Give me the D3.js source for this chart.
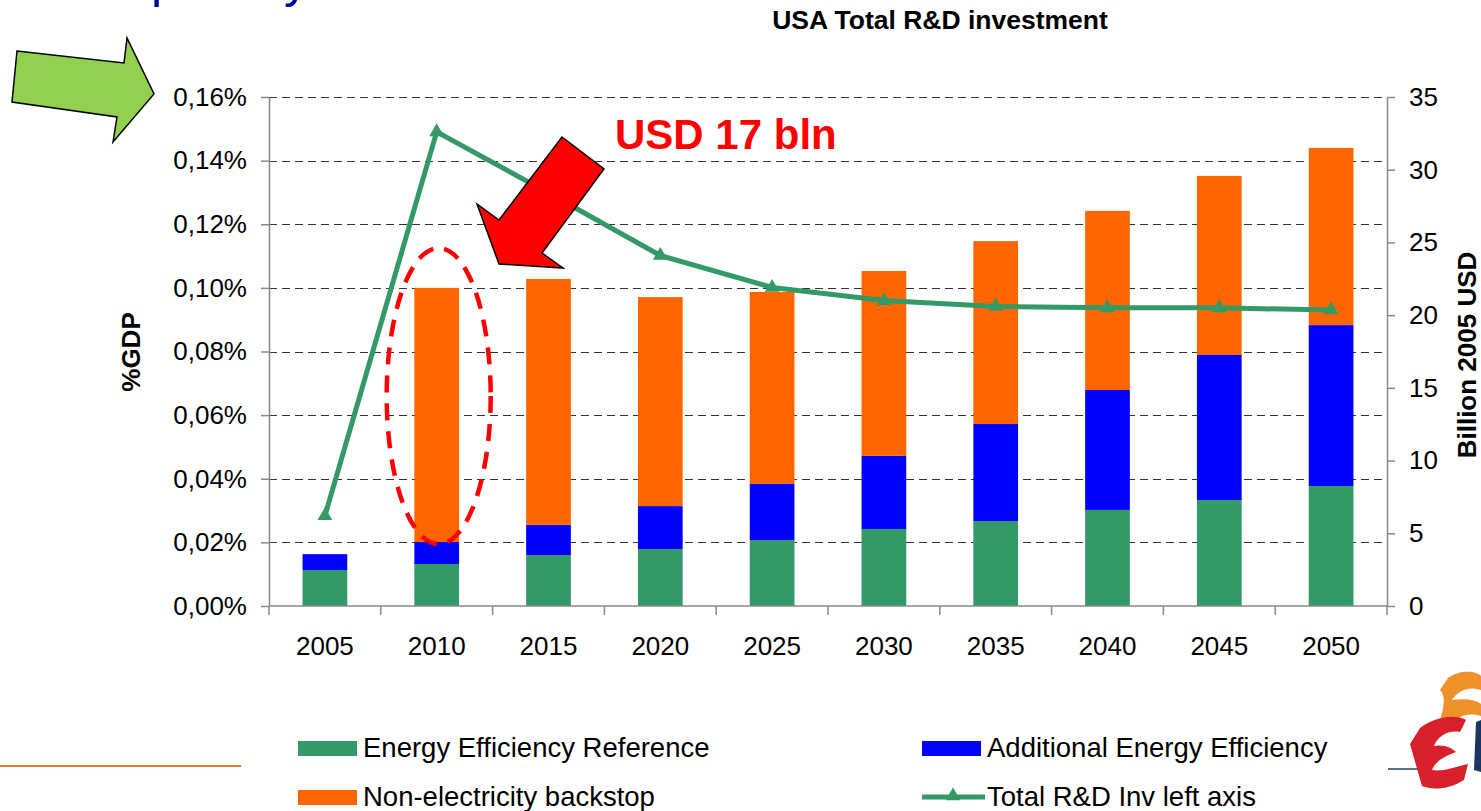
<!DOCTYPE html>
<html>
<head>
<meta charset="utf-8">
<script src="https://cdn.jsdelivr.net/npm/d3@7"></script>
<style>
  body { margin: 0; background: #fff; }
  svg { display: block; font-family: "Liberation Sans", Arial, sans-serif; }
</style>
</head>
<body>
<svg id="main_svg" width="1481" height="811"></svg>
<script>
// data
const years = ['2005', '2010', '2015', '2020', '2025', '2030', '2035', '2040', '2045', '2050'];
// %GDP, stacked segments
const eff_ref = [0.0113, 0.0132, 0.0160, 0.0179, 0.0207, 0.0242, 0.0267, 0.0302, 0.0333, 0.0377];
const eff_add = [0.0050, 0.0069, 0.0095, 0.0135, 0.0177, 0.0230, 0.0305, 0.0377, 0.0456, 0.0506];
const backstop = [0.0000, 0.0799, 0.0773, 0.0657, 0.0603, 0.0581, 0.0575, 0.0563, 0.0563, 0.0557];
// billion 2005 USD
const total_inv = [6.2, 32.6, 28.4, 24.1, 21.9, 21.0, 20.6, 20.5, 20.5, 20.35];
const left_ticks = [0, 0.02, 0.04, 0.06, 0.08, 0.10, 0.12, 0.14, 0.16];
const right_ticks = [0, 5, 10, 15, 20, 25, 30, 35];

const series_names = ['Energy Efficiency Reference', 'Additional Energy Efficiency', 'Non-electricity backstop'];
const series_colors = ['#339966', '#0000ff', '#ff6600'];
const line_color = '#339966';

const svg = d3.select('#main_svg');
const plot = { left: 269, right: 1387, top: 97, bottom: 606 };

const x = d3.scaleBand()
  .domain(years)
  .range([plot.left, plot.right])
  .paddingInner(0.6)
  .paddingOuter(0.3);

const y_left = d3.scaleLinear().domain([0, 0.16]).range([plot.bottom, plot.top]);
const y_right = d3.scaleLinear().domain([0, 35]).range([plot.bottom, plot.top]);

// slide title, cut off by the top edge (only descenders show)
svg.append('text').attr('x', 151).attr('y', -3)
  .style('font-size', '50px').style('fill', '#000099').text('p');
svg.append('text').attr('x', 284).attr('y', -3)
  .style('font-size', '50px').style('fill', '#000099').text('y');

// chart title
svg.append('text')
  .attr('x', 940).attr('y', 29)
  .attr('text-anchor', 'middle')
  .style('font-size', '26.5px').style('font-weight', 'bold')
  .text('USA Total R&D investment');

// dashed gridlines
svg.append('g').selectAll('line')
  .data(left_ticks.filter(d => d > 0))
  .enter().append('line')
  .attr('x1', plot.left).attr('x2', plot.right)
  .attr('y1', d => Math.round(y_left(d)) + 0.5)
  .attr('y2', d => Math.round(y_left(d)) + 0.5)
  .style('stroke', '#333')
  .style('stroke-width', 1.2)
  .style('stroke-dasharray', '8,5');

// stacked bars
const table = years.map((yr, i) => ({ year: yr, a: eff_ref[i], b: eff_add[i], c: backstop[i] }));
const stacked = d3.stack().keys(['a', 'b', 'c'])(table);

svg.append('g').selectAll('g')
  .data(stacked)
  .enter().append('g')
  .style('fill', (d, i) => series_colors[i])
  .selectAll('rect')
  .data(d => d)
  .enter().append('rect')
  .attr('x', d => x(d.data.year))
  .attr('width', x.bandwidth())
  .attr('y', d => y_left(d[1]))
  .attr('height', d => y_left(d[0]) - y_left(d[1]));

// axes
function style_axis(g) {
  g.selectAll('.domain').style('stroke', '#888').style('stroke-width', 1.5);
  g.selectAll('.tick line').style('stroke', '#888').style('stroke-width', 1.5);
  g.selectAll('text').style('font-size', '26px').style('fill', '#000')
    .style('font-family', '"Liberation Sans", Arial, sans-serif');
}

svg.append('g')
  .attr('transform', 'translate(' + plot.left + ',0)')
  .call(d3.axisLeft(y_left)
    .tickValues(left_ticks)
    .tickSize(8)
    .tickSizeOuter(0)
    .tickPadding(14)
    .tickFormat(d => d.toFixed(2).replace('.', ',') + '%'))
  .call(style_axis);

svg.append('g')
  .attr('transform', 'translate(' + plot.right + ',0)')
  .call(d3.axisRight(y_right)
    .tickValues(right_ticks)
    .tickSize(8)
    .tickSizeOuter(0)
    .tickPadding(14))
  .call(style_axis);

// category axis: boundary ticks + labels
const step = x.step();
const half_gap = (step - x.bandwidth()) / 2;
const x_axis = svg.append('g');
x_axis.append('line')
  .attr('x1', plot.left).attr('x2', plot.right)
  .attr('y1', plot.bottom).attr('y2', plot.bottom)
  .style('stroke', '#888').style('stroke-width', 1.5);
x_axis.selectAll('.xtick')
  .data(years.concat(['end']))
  .enter().append('line')
  .attr('class', 'xtick')
  .attr('x1', (d, i) => i < years.length ? x(d) - half_gap : x(years[years.length - 1]) + x.bandwidth() + half_gap)
  .attr('x2', (d, i) => i < years.length ? x(d) - half_gap : x(years[years.length - 1]) + x.bandwidth() + half_gap)
  .attr('y1', plot.bottom).attr('y2', plot.bottom + 9)
  .style('stroke', '#888').style('stroke-width', 1.5);
x_axis.selectAll('.xlabel')
  .data(years)
  .enter().append('text')
  .attr('x', d => x(d) + x.bandwidth() / 2)
  .attr('y', 655)
  .attr('text-anchor', 'middle')
  .style('font-size', '26px')
  .text(d => d);

// axis titles
svg.append('text')
  .attr('transform', 'translate(140,352) rotate(-90)')
  .attr('text-anchor', 'middle')
  .style('font-size', '26px').style('font-weight', 'bold')
  .text('%GDP');
svg.append('text')
  .attr('transform', 'translate(1476,355) rotate(-90)')
  .attr('text-anchor', 'middle')
  .style('font-size', '26px').style('font-weight', 'bold')
  .text('Billion 2005 USD');

// red dashed ellipse around 2010
svg.append('ellipse')
  .attr('cx', x('2010') + x.bandwidth() / 2 + 2)
  .attr('cy', 396)
  .attr('rx', 52).attr('ry', 148)
  .style('fill', 'none')
  .style('stroke', '#ff0000')
  .style('stroke-width', 4.5)
  .style('stroke-dasharray', '17,11');

// total investment line
const line = d3.line()
  .x((d, i) => x(years[i]) + x.bandwidth() / 2)
  .y(d => y_right(d));

svg.append('path')
  .datum(total_inv)
  .attr('d', line)
  .style('fill', 'none')
  .style('stroke', line_color)
  .style('stroke-width', 5)
  .style('stroke-linejoin', 'round');

const tri = d3.symbol().type(d3.symbolTriangle).size(95);
svg.append('g').selectAll('path')
  .data(total_inv)
  .enter().append('path')
  .attr('d', tri)
  .attr('transform', (d, i) => 'translate(' + (x(years[i]) + x.bandwidth() / 2) + ',' + y_right(d) + ')')
  .style('fill', line_color);

// annotation arrows
svg.append('polygon')
  .attr('points', '17,51 124,63 127,38 154,94 113,142 117,117 12,102')
  .style('fill', '#92d050').style('stroke', '#000').style('stroke-width', 1.5);

svg.append('polygon')
  .attr('points', '562,137 604,169 542,253 563,268 499,264 477,204 499,220')
  .style('fill', '#ff0000').style('stroke', '#000').style('stroke-width', 1.5);

svg.append('text')
  .attr('x', 615).attr('y', 149)
  .style('font-size', '42px').style('font-weight', 'bold')
  .style('fill', '#ff0000')
  .text('USD 17 bln');

// legend
const legend_items = [
  { name: series_names[0], color: series_colors[0], x: 298, y: 748, type: 'rect' },
  { name: series_names[1], color: series_colors[1], x: 922, y: 748, type: 'rect' },
  { name: series_names[2], color: series_colors[2], x: 298, y: 797, type: 'rect' },
  { name: 'Total R&D Inv left axis', color: line_color, x: 922, y: 797, type: 'line' }
];
const legend = svg.append('g').selectAll('g')
  .data(legend_items)
  .enter().append('g')
  .attr('transform', d => 'translate(' + d.x + ',' + d.y + ')');

legend.filter(d => d.type === 'rect').append('rect')
  .attr('x', 0).attr('y', -7).attr('width', 59).attr('height', 15)
  .style('fill', d => d.color);
legend.filter(d => d.type === 'line').append('line')
  .attr('x1', 0).attr('x2', 63).attr('y1', 0).attr('y2', 0)
  .style('stroke', d => d.color).style('stroke-width', 5);
legend.filter(d => d.type === 'line').append('path')
  .attr('d', tri)
  .attr('transform', 'translate(31,-1)')
  .style('fill', d => d.color);
legend.append('text')
  .attr('x', 65).attr('y', 9)
  .style('font-size', '27.5px')
  .text(d => d.name);

// slide decoration: orange rule and logo
svg.append('line')
  .attr('x1', 0).attr('x2', 241).attr('y1', 766).attr('y2', 766)
  .style('stroke', '#e8782a').style('stroke-width', 2);
svg.append('line')
  .attr('x1', 1388).attr('x2', 1418).attr('y1', 769).attr('y2', 769)
  .style('stroke', '#5b7090').style('stroke-width', 2);

const logo = svg.append('g');
logo.append('path')
  .attr('d', 'M1448,678 C1462,668 1478,672 1481,676 L1481,690 C1470,686 1458,690 1452,700 C1466,698 1476,700 1481,704 L1481,716 C1468,712 1456,716 1450,726 L1440,720 C1444,708 1446,696 1440,690 Z')
  .style('fill', '#f0902a');
logo.append('path')
  .attr('d', 'M1420,728 C1436,716 1456,714 1466,720 L1460,732 C1448,730 1438,736 1434,746 C1444,744 1452,748 1456,752 C1446,756 1436,760 1432,770 C1444,772 1458,766 1468,764 L1464,780 C1448,790 1432,790 1422,786 C1418,772 1414,758 1410,744 Z')
  .style('fill', '#d8202a');
logo.append('path')
  .attr('d', 'M1476,722 L1481,720 L1481,772 L1474,770 Z')
  .style('fill', '#1a3560');
</script>
</body>
</html>
